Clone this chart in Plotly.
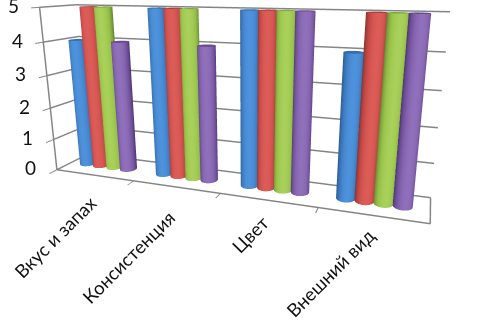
import numpy as np
import plotly.graph_objects as go

categories = ["Вкус и запах", "Консистенция", "Цвет", "Внешний вид"]
series_a = [4, 5, 5, 4]
series_b = [5, 5, 5, 5]
series_c = [5, 5, 5, 5]
series_d = [4, 4, 5, 5]
z_ticks = [0, 1, 2, 3, 4, 5]

series = [series_a, series_b, series_c, series_d]
palette = [
    ("#2a558c", "#3f7fc6", "#4f92dc"),
    ("#86302d", "#c94c48", "#dc5c58"),
    ("#648531", "#98c24a", "#a8d05a"),
    ("#4d3473", "#7d5ca8", "#9070bb"),
]
offsets = [-0.29, -0.11, 0.07, 0.25]
rx, ry = 0.092, 0.17
view = np.array([0.33, -0.94])

theta = np.linspace(0, 2 * np.pi, 49)
fig = go.Figure()
for s, vals in enumerate(series):
    dark, base, light = palette[s]
    scale = [[0, dark], [0.7, base], [1, light]]
    for i, v in enumerate(vals):
        cx, cy = i + offsets[s], 0.5
        T, Z = np.meshgrid(theta, [0, v])
        X = cx + rx * np.cos(T)
        Y = cy + ry * np.sin(T)
        shade = np.clip(np.cos(T) * view[0] + np.sin(T) * view[1], 0, 1)
        common = dict(colorscale=scale, cmin=0, cmax=1, showscale=False, hoverinfo="skip",
                      lighting=dict(ambient=1, diffuse=0, specular=0, fresnel=0, roughness=1))
        fig.add_trace(go.Surface(x=X, y=Y, z=Z, surfacecolor=shade, **common))
        R, T2 = np.meshgrid([0, 1], theta)
        fig.add_trace(go.Surface(x=cx + rx * R * np.cos(T2), y=cy + ry * R * np.sin(T2),
                                 z=np.full_like(R, v, dtype=float),
                                 surfacecolor=np.full_like(R, 0.4, dtype=float), **common))

FONT = dict(family="Lato, Open Sans, sans-serif", size=18.5, color="#111111")
GRID = "#858585"
ann = []
cat_shift = [(-39, -61.5), (-47, -70), (-17, -34), (-42, -57.5)]
for i, c in enumerate(categories):
    ann.append(dict(x=i, y=0, z=0, text=c, showarrow=False, textangle=-45,
                    font=FONT, xshift=cat_shift[i][0], yshift=cat_shift[i][1]))
for t in z_ticks:
    ann.append(dict(x=-0.5, y=0, z=t, text=str(t), showarrow=False, font=dict(FONT, size=19),
                    xshift=-26, yshift=2))

axis_common = dict(showbackground=False, zeroline=False, showspikes=False, title="", showticklabels=False)
fig.update_layout(
    width=503, height=422, margin=dict(l=0, r=0, t=0, b=0), paper_bgcolor="white", showlegend=False,
    scene=dict(
        domain=dict(x=[0, 0.982], y=[0, 1]),
        aspectmode="manual", aspectratio=dict(x=0.878, y=0.13, z=0.395),
        camera=dict(eye=dict(x=0.402, y=-1.03, z=0.2575), center=dict(x=0.033, y=0.019, z=-0.0525),
                    up=dict(x=-0.02, y=0, z=1)),
        xaxis=dict(range=[-0.5, 3.5], tickvals=[0.5, 1.5, 2.5], ticktext=["", "", ""], ticks="outside", ticklen=6,
                   tickcolor=GRID, tickwidth=2, showgrid=False, showline=True, linecolor=GRID, linewidth=3, **axis_common),
        yaxis=dict(range=[0, 1], tickvals=[], showgrid=False, showline=True, linecolor=GRID, linewidth=3, **axis_common),
        zaxis=dict(range=[0, 5], tickvals=z_ticks, ticks="outside", ticklen=8, tickcolor=GRID, tickwidth=2, gridcolor=GRID,
                   gridwidth=3, showgrid=True, showline=True, linecolor=GRID, linewidth=3, **axis_common),
        annotations=ann,
    ),
)
post = ("document.body.style.margin='0';document.body.style.overflow='hidden';"
        "document.getElementById('{plot_id}').style.marginTop='-89px';")
fig.write_html("out.html", post_script=post)
